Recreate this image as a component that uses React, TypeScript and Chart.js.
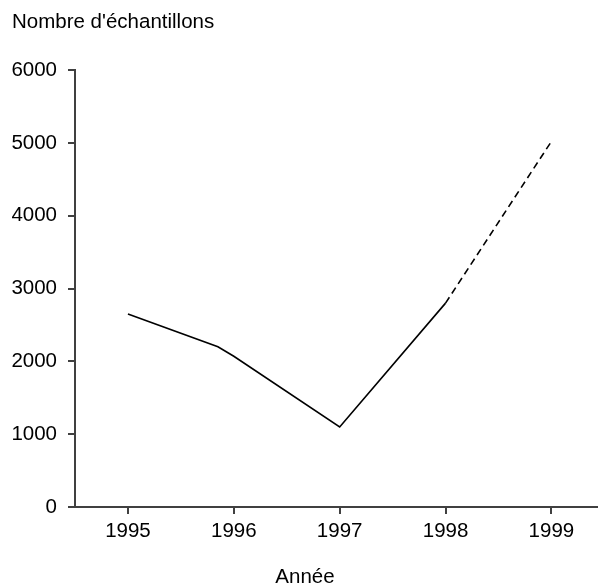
import React, { useEffect, useRef } from "react";
import { Chart, registerables } from "chart.js";

Chart.register(...registerables);

const years = [1995, 1996, 1997, 1998, 1999];
const solidX = [1995, 1995.85, 1996, 1997, 1998];
const solidY = [2650, 2200, 2070, 1100, 2800];
const dashedX = [1998, 1999];
const dashedY = [2800, 5020];
const yTicks = [0, 1000, 2000, 3000, 4000, 5000, 6000];
const yTitle = "Nombre d'échantillons";
const xTitle = "Année";

const FONT = { family: "'Liberation Sans', Arial, sans-serif", size: 20.5, weight: "normal" as const };
const AXIS = "#404040";

export default function App() {
  const ref = useRef<HTMLCanvasElement | null>(null);

  useEffect(() => {
    if (!ref.current) return;
    const chart = new Chart(ref.current, {
      type: "line",
      data: {
        datasets: [
          {
            data: solidX.map((x, i) => ({ x, y: solidY[i] })),
            borderColor: "#000",
            borderWidth: 1.6,
            pointRadius: 0,
            tension: 0,
            fill: false,
          },
          {
            data: dashedX.map((x, i) => ({ x, y: dashedY[i] })),
            borderColor: "#000",
            borderWidth: 1.6,
            borderDash: [7, 4.5],
            pointRadius: 0,
            tension: 0,
            fill: false,
          },
        ],
      },
      options: {
        responsive: false,
        animation: false,
        layout: { padding: { left: 12, right: 0, top: 0, bottom: 0 } },
        plugins: {
          legend: { display: false },
          tooltip: { enabled: false },
          title: {
            display: true,
            text: yTitle,
            align: "start",
            color: "#000",
            font: FONT,
            padding: { top: 10.4, bottom: 35 },
          },
          subtitle: {
            display: true,
            text: xTitle,
            position: "bottom",
            color: "#000",
            font: FONT,
            padding: { top: 15.4, bottom: 3.5 },
          },
        },
        scales: {
          x: {
            type: "linear",
            min: 1994.5,
            max: 1999.44,
            afterBuildTicks: (s: any) => {
              s.ticks = years.map((v) => ({ value: v }));
            },
            ticks: {
              color: "#000",
              font: FONT,
              padding: 5.4,
              maxRotation: 0,
              autoSkip: false,
              callback: (v: any) => String(v),
            },
            grid: {
              drawOnChartArea: false,
              drawTicks: true,
              tickLength: 7,
              tickColor: AXIS,
              lineWidth: 2,
            },
            border: { display: true, color: AXIS, width: 2 },
          },
          y: {
            type: "linear",
            min: 0,
            max: 6000,
            afterBuildTicks: (s: any) => {
              s.ticks = yTicks.map((v) => ({ value: v }));
            },
            afterFit: (s: any) => {
              s.width = 63;
            },
            ticks: {
              color: "#000",
              font: FONT,
              padding: 11,
              callback: (v: any) => String(v),
            },
            grid: {
              drawOnChartArea: false,
              drawTicks: true,
              tickLength: 7,
              tickColor: AXIS,
              lineWidth: 2,
            },
            border: { display: true, color: AXIS, width: 2 },
          },
        },
      },
    });
    return () => chart.destroy();
  }, []);

  return (
    <div style={{ position: "absolute", left: 0, top: 0, width: 598, height: 583, overflow: "hidden", background: "#fff" }}>
      <canvas ref={ref} width={598} height={593} style={{ display: "block", width: 598, height: 593 }} />
    </div>
  );
}
